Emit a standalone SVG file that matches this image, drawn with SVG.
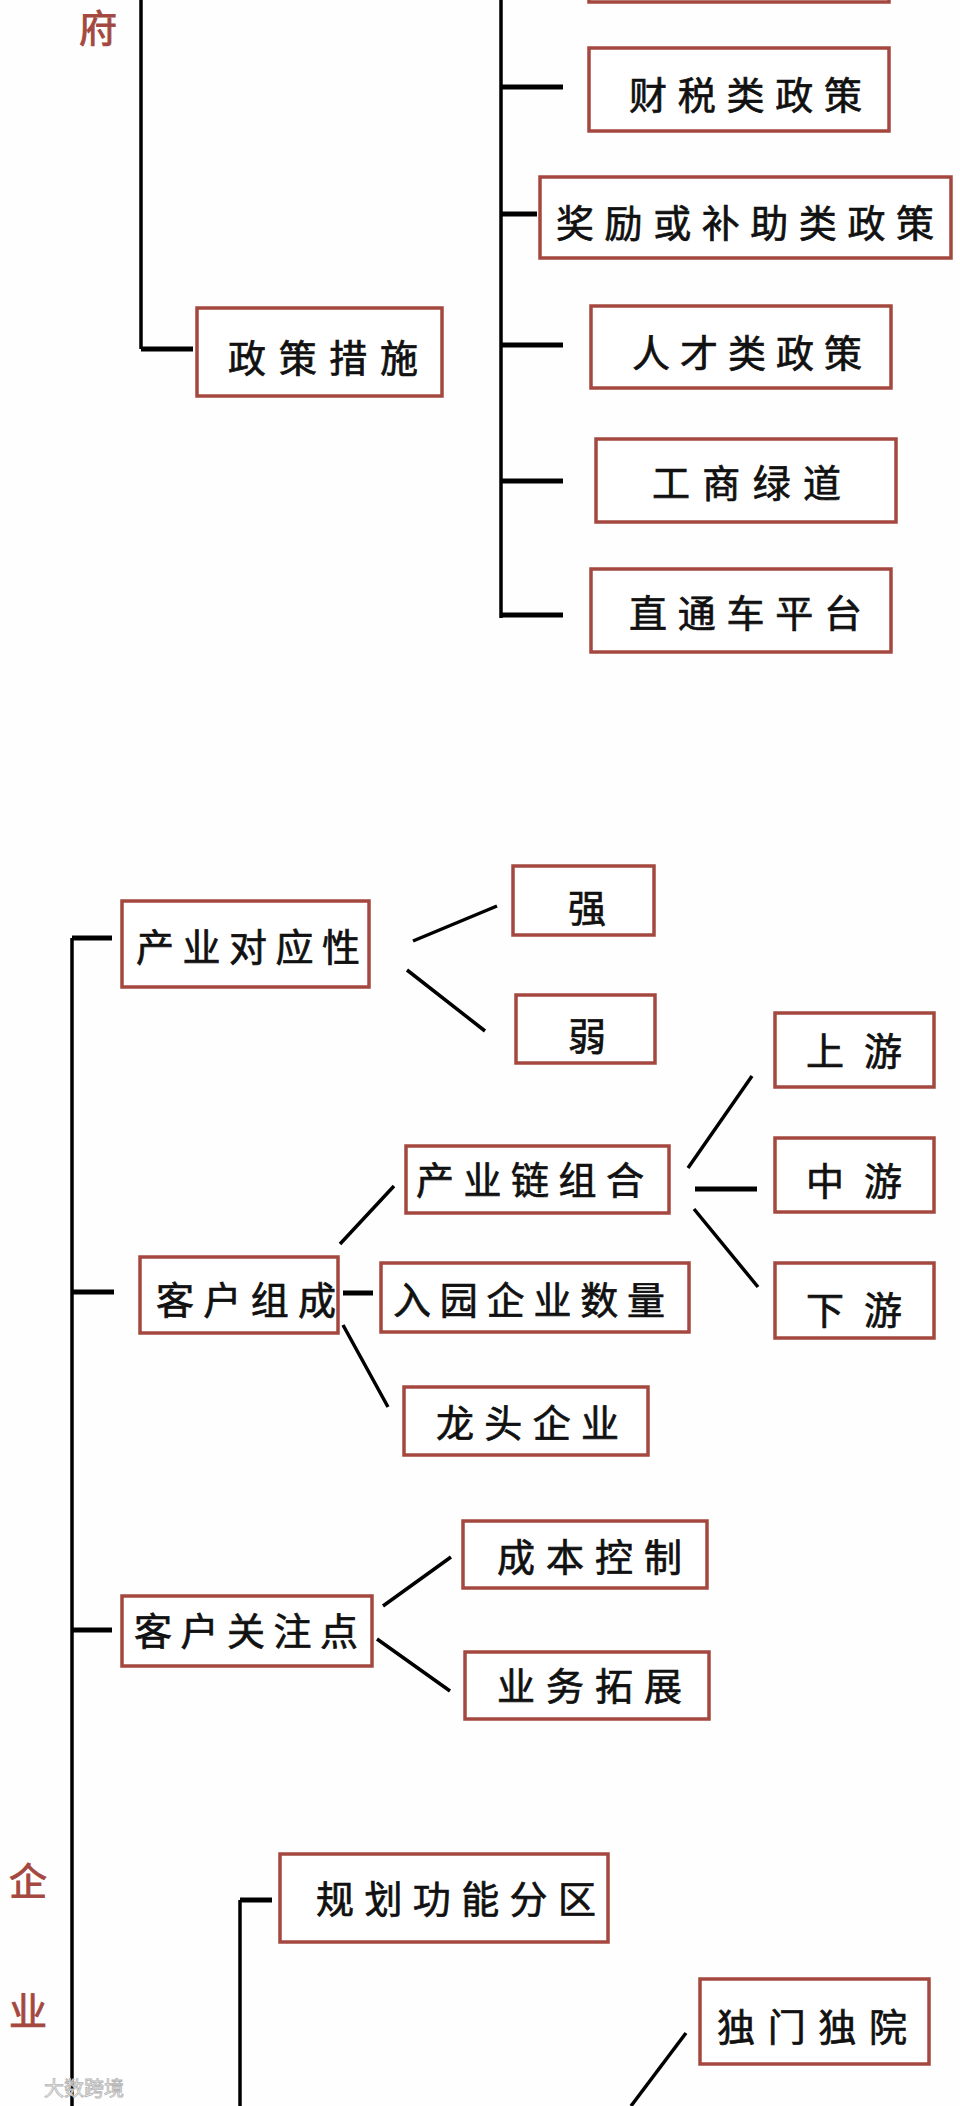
<svg xmlns="http://www.w3.org/2000/svg" width="960" height="2106" viewBox="0 0 960 2106">
<style>
.box{fill:#fff;stroke:#a4483f;stroke-width:3.5}
.t{font-family:"Noto Sans CJK SC","Noto Sans",sans-serif;font-size:38px;fill:#111;stroke:#111;stroke-width:0.7;dominant-baseline:central}
.r{font-family:"Noto Sans CJK SC","Noto Sans",sans-serif;font-size:38px;fill:#a4483f;stroke:#a4483f;stroke-width:0.9;dominant-baseline:central;text-anchor:middle}
.c{font-family:"Noto Sans CJK SC","Noto Sans",sans-serif;font-size:38px;fill:#111;stroke:#111;stroke-width:0.7;dominant-baseline:central;text-anchor:middle}
.l{stroke:#000;stroke-width:3.5;fill:none}
.k{stroke:#000;stroke-width:5;fill:none}
.wm{font-family:"Noto Sans CJK SC",sans-serif;font-size:20px;fill:#f2f2f2;stroke:#b5b5b5;stroke-width:0.8;dominant-baseline:central}
</style>
<rect x="0" y="0" width="960" height="2106" fill="#fefefe"/>
<g id="connectors">
<path class="l" d="M141 0V349"/>
<path class="k" d="M141 349H193"/>
<path class="l" d="M501 0V618"/>
<path class="k" d="M501 87H563M501 214H537M501 345H563M501 481H563M501 615H563"/>
<path class="l" d="M72 938V2106"/>
<path class="k" d="M72 938H112M72 1292H114M72 1630H112"/>
<path class="l" d="M413 941L497 906M407 970L485 1031"/>
<path class="l" d="M340 1244L394 1186M343 1325L388 1407"/>
<path class="k" d="M343 1293H373"/>
<path class="l" d="M688 1168L752 1076M694 1209L758 1287"/>
<path class="k" d="M695 1189H757"/>
<path class="l" d="M383 1606L451 1557M377 1639L450 1691"/>
<path class="l" d="M240 1900V2106"/>
<path class="k" d="M240 1900H272"/>
<path class="l" d="M686 2033L631 2106"/>
</g>
<g id="label-fu"><text class="r" x="98" y="25">府</text></g>
<g id="label-qi"><text class="r" x="28" y="1878">企</text></g>
<g id="label-ye"><text class="r" x="28" y="2008">业</text></g>
<g id="node-top"><rect class="box" x="589" y="-60" width="300" height="62"/></g>
<g id="node-caishui"><rect class="box" x="589" y="48" width="300" height="83"/><text class="t" x="629" y="92" textLength="233" lengthAdjust="spacing">财税类政策</text></g>
<g id="node-jiangli"><rect class="box" x="540" y="177" width="411" height="81"/><text class="t" x="556" y="220" textLength="378" lengthAdjust="spacing">奖励或补助类政策</text></g>
<g id="node-rencai"><rect class="box" x="591" y="306" width="300" height="82"/><text class="t" x="632" y="350" textLength="230" lengthAdjust="spacing">人才类政策</text></g>
<g id="node-gongshang"><rect class="box" x="596" y="439" width="300" height="83"/><text class="t" x="652" y="480" textLength="189" lengthAdjust="spacing">工商绿道</text></g>
<g id="node-zhitongche"><rect class="box" x="591" y="569" width="300" height="83"/><text class="t" x="629" y="610" textLength="233" lengthAdjust="spacing">直通车平台</text></g>
<g id="node-zhengce"><rect class="box" x="197" y="308" width="245" height="88"/><text class="t" x="228" y="355" textLength="190" lengthAdjust="spacing">政策措施</text></g>
<g id="node-chanye"><rect class="box" x="122" y="901" width="247" height="86"/><text class="t" x="136" y="944" textLength="224" lengthAdjust="spacing">产业对应性</text></g>
<g id="node-qiang"><rect class="box" x="513" y="866" width="141" height="69"/><text class="c" x="587" y="905">强</text></g>
<g id="node-ruo"><rect class="box" x="516" y="995" width="139" height="68"/><text class="c" x="587" y="1033">弱</text></g>
<g id="node-shangyou"><rect class="box" x="775" y="1013" width="159" height="74"/><text class="t" x="806" y="1048" textLength="96" lengthAdjust="spacing">上游</text></g>
<g id="node-zhongyou"><rect class="box" x="775" y="1138" width="159" height="74"/><text class="t" x="806" y="1178" textLength="96" lengthAdjust="spacing">中游</text></g>
<g id="node-xiayou"><rect class="box" x="775" y="1263" width="159" height="75"/><text class="t" x="806" y="1307" textLength="96" lengthAdjust="spacing">下游</text></g>
<g id="node-chanyelian"><rect class="box" x="406" y="1146" width="263" height="67"/><text class="t" x="416" y="1177" textLength="228" lengthAdjust="spacing">产业链组合</text></g>
<g id="node-kehuzucheng"><rect class="box" x="140" y="1257" width="198" height="76"/><text class="t" x="156" y="1297" textLength="180" lengthAdjust="spacing">客户组成</text></g>
<g id="node-ruyuan"><rect class="box" x="381" y="1263" width="308" height="69"/><text class="t" x="393" y="1297" textLength="272" lengthAdjust="spacing">入园企业数量</text></g>
<g id="node-longtou"><rect class="box" x="404" y="1387" width="244" height="68"/><text class="t" x="436" y="1420" textLength="183" lengthAdjust="spacing">龙头企业</text></g>
<g id="node-chengben"><rect class="box" x="463" y="1521" width="244" height="67"/><text class="t" x="497" y="1554" textLength="185" lengthAdjust="spacing">成本控制</text></g>
<g id="node-yewu"><rect class="box" x="465" y="1652" width="244" height="67"/><text class="t" x="497" y="1683" textLength="185" lengthAdjust="spacing">业务拓展</text></g>
<g id="node-guanzhu"><rect class="box" x="122" y="1596" width="250" height="70"/><text class="t" x="134" y="1628" textLength="224" lengthAdjust="spacing">客户关注点</text></g>
<g id="node-guihua"><rect class="box" x="280" y="1854" width="328" height="88"/><text class="t" x="316" y="1896" textLength="280" lengthAdjust="spacing">规划功能分区</text></g>
<g id="node-dumen"><rect class="box" x="700" y="1979" width="229" height="85"/><text class="t" x="717" y="2024" textLength="190" lengthAdjust="spacing">独门独院</text></g>
<g id="watermark"><text class="wm" x="44" y="2087">大数跨境</text></g>
</svg>
